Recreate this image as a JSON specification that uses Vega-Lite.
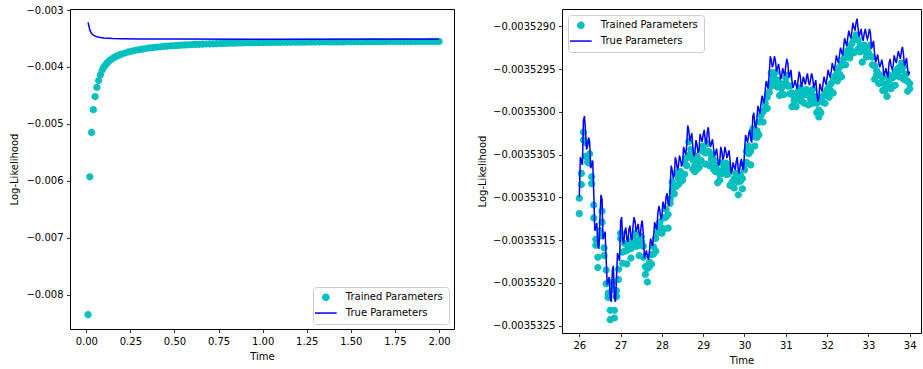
{
"$schema": "https://vega.github.io/schema/vega-lite/v6.json",
"padding": {"left": 9, "top": 4, "right": 0, "bottom": 0},
"spacing": 22,
"resolve": {"scale": {"color": "independent", "shape": "independent"}, "legend": {"color": "independent", "shape": "independent"}},
"config": {
 "view": {"stroke": "#000000", "strokeWidth": 1},
 "font": "DejaVu Sans",
 "axis": {"labelFont": "DejaVu Sans", "labelFontSize": 10, "labelColor": "#000000", "titleFont": "DejaVu Sans", "titleFontSize": 10, "titleFontWeight": "normal", "titleColor": "#000000", "tickColor": "#000000", "tickSize": 3.5, "tickWidth": 0.8, "labelPadding": 3.5, "domain": false, "grid": false, "labelFlush": false, "labelOverlap": false, "labelBound": false},
 "legend": {"labelFont": "DejaVu Sans", "labelFontSize": 10, "labelColor": "#000000", "strokeColor": "#cccccc", "fillColor": "rgba(255,255,255,0.8)", "cornerRadius": 3, "padding": 5.35, "symbolSize": 100, "symbolStrokeWidth": 0, "symbolOffset": 2.5, "labelOffset": 15, "rowPadding": 5.7}
},
"datasets": {
 "leftTrained": [
  {"t":0.01,"ll":-0.00835},{"t":0.02,"ll":-0.00593},{"t":0.03,"ll":-0.00515},{"t":0.04,"ll":-0.00475},{"t":0.05,"ll":-0.00452},{"t":0.06,"ll":-0.00436},{"t":0.07,"ll":-0.00424},{"t":0.08,"ll":-0.00414},{"t":0.09,"ll":-0.00406},{"t":0.10,"ll":-0.004},
  {"t":0.11,"ll":-0.00396},{"t":0.12,"ll":-0.003925},{"t":0.13,"ll":-0.003895},{"t":0.14,"ll":-0.00387},{"t":0.15,"ll":-0.00385},{"t":0.16,"ll":-0.00383},{"t":0.17,"ll":-0.003815},{"t":0.18,"ll":-0.0038},{"t":0.19,"ll":-0.003787},{"t":0.20,"ll":-0.003775},
  {"t":0.22,"ll":-0.003755},{"t":0.24,"ll":-0.003737},{"t":0.26,"ll":-0.003722},{"t":0.28,"ll":-0.003709},{"t":0.30,"ll":-0.003697},{"t":0.32,"ll":-0.003686},{"t":0.34,"ll":-0.003676},{"t":0.36,"ll":-0.003667},{"t":0.38,"ll":-0.003659},{"t":0.40,"ll":-0.003652},
  {"t":0.42,"ll":-0.003646},{"t":0.44,"ll":-0.00364},{"t":0.46,"ll":-0.003635},{"t":0.48,"ll":-0.00363},{"t":0.50,"ll":-0.003626},{"t":0.52,"ll":-0.003622},{"t":0.54,"ll":-0.003618},{"t":0.56,"ll":-0.003614},{"t":0.58,"ll":-0.003611},{"t":0.60,"ll":-0.003608},
  {"t":0.62,"ll":-0.003605},{"t":0.64,"ll":-0.003602},{"t":0.66,"ll":-0.0036},{"t":0.68,"ll":-0.003597},{"t":0.70,"ll":-0.003595},{"t":0.72,"ll":-0.003593},{"t":0.74,"ll":-0.003591},{"t":0.76,"ll":-0.003589},{"t":0.78,"ll":-0.003587},{"t":0.80,"ll":-0.003585},
  {"t":0.82,"ll":-0.003583},{"t":0.84,"ll":-0.003582},{"t":0.86,"ll":-0.00358},{"t":0.88,"ll":-0.003579},{"t":0.90,"ll":-0.003577},{"t":0.92,"ll":-0.003576},{"t":0.94,"ll":-0.003575},{"t":0.96,"ll":-0.003574},{"t":0.98,"ll":-0.003573},{"t":1.00,"ll":-0.003572},
  {"t":1.02,"ll":-0.003571},{"t":1.04,"ll":-0.00357},{"t":1.06,"ll":-0.003569},{"t":1.08,"ll":-0.003569},{"t":1.10,"ll":-0.003568},{"t":1.12,"ll":-0.003568},{"t":1.14,"ll":-0.003567},{"t":1.16,"ll":-0.003567},{"t":1.18,"ll":-0.003566},{"t":1.20,"ll":-0.003566},
  {"t":1.22,"ll":-0.003565},{"t":1.24,"ll":-0.003565},{"t":1.26,"ll":-0.003564},{"t":1.28,"ll":-0.003564},{"t":1.30,"ll":-0.003563},{"t":1.32,"ll":-0.003563},{"t":1.34,"ll":-0.003562},{"t":1.36,"ll":-0.003562},{"t":1.38,"ll":-0.003561},{"t":1.40,"ll":-0.003561},
  {"t":1.42,"ll":-0.00356},{"t":1.44,"ll":-0.00356},{"t":1.46,"ll":-0.00356},{"t":1.48,"ll":-0.003559},{"t":1.50,"ll":-0.003559},{"t":1.52,"ll":-0.003558},{"t":1.54,"ll":-0.003558},{"t":1.56,"ll":-0.003558},{"t":1.58,"ll":-0.003557},{"t":1.60,"ll":-0.003557},
  {"t":1.62,"ll":-0.003557},{"t":1.64,"ll":-0.003556},{"t":1.66,"ll":-0.003556},{"t":1.68,"ll":-0.003556},{"t":1.70,"ll":-0.003555},{"t":1.72,"ll":-0.003555},{"t":1.74,"ll":-0.003555},{"t":1.76,"ll":-0.003555},{"t":1.78,"ll":-0.003554},{"t":1.80,"ll":-0.003554},
  {"t":1.82,"ll":-0.003554},{"t":1.84,"ll":-0.003554},{"t":1.86,"ll":-0.003553},{"t":1.88,"ll":-0.003553},{"t":1.90,"ll":-0.003553},{"t":1.92,"ll":-0.003553},{"t":1.94,"ll":-0.003552},{"t":1.96,"ll":-0.003552},{"t":1.98,"ll":-0.003552},{"t":2.00,"ll":-0.003552}
 ],
 "leftTrue": [
  {"t":0.01,"ll":-0.00322},{"t":0.02,"ll":-0.00335},{"t":0.03,"ll":-0.003414},{"t":0.04,"ll":-0.00344},{"t":0.05,"ll":-0.003459},{"t":0.06,"ll":-0.00347},{"t":0.08,"ll":-0.003482},{"t":0.10,"ll":-0.003492},{"t":0.15,"ll":-0.003502},{"t":0.20,"ll":-0.003506},{"t":0.30,"ll":-0.003509},{"t":0.50,"ll":-0.003511},{"t":1.00,"ll":-0.003512},{"t":1.50,"ll":-0.003513},{"t":2.00,"ll":-0.003513}
 ],
 "rightTrue": [
  {"t":26.00,"ll":-0.00353099},{"t":26.05,"ll":-0.00353058},{"t":26.10,"ll":-0.0035301},{"t":26.15,"ll":-0.00353022},{"t":26.20,"ll":-0.0035304},{"t":26.25,"ll":-0.00353035},{"t":26.30,"ll":-0.00353062},{"t":26.35,"ll":-0.00353095},{"t":26.40,"ll":-0.00353135},{"t":26.45,"ll":-0.00353156},
  {"t":26.50,"ll":-0.00353125},{"t":26.55,"ll":-0.00353102},{"t":26.60,"ll":-0.00353145},{"t":26.65,"ll":-0.00353171},{"t":26.70,"ll":-0.00353198},{"t":26.75,"ll":-0.00353218},{"t":26.80,"ll":-0.00353185},{"t":26.85,"ll":-0.00353218},{"t":26.90,"ll":-0.00353195},{"t":26.95,"ll":-0.0035317},
  {"t":27.00,"ll":-0.00353128},{"t":27.05,"ll":-0.0035315},{"t":27.10,"ll":-0.0035314},{"t":27.15,"ll":-0.00353148},{"t":27.20,"ll":-0.00353138},{"t":27.25,"ll":-0.00353146},{"t":27.30,"ll":-0.00353134},{"t":27.35,"ll":-0.00353128},{"t":27.40,"ll":-0.00353136},{"t":27.45,"ll":-0.00353142},
  {"t":27.50,"ll":-0.00353132},{"t":27.55,"ll":-0.00353143},{"t":27.60,"ll":-0.00353167},{"t":27.65,"ll":-0.00353169},{"t":27.70,"ll":-0.00353162},{"t":27.75,"ll":-0.00353153},{"t":27.80,"ll":-0.00353144},{"t":27.85,"ll":-0.00353134},{"t":27.90,"ll":-0.0035312},{"t":27.95,"ll":-0.00353115},
  {"t":28.00,"ll":-0.00353122},{"t":28.05,"ll":-0.0035311},{"t":28.10,"ll":-0.003531},{"t":28.15,"ll":-0.00353106},{"t":28.20,"ll":-0.00353088},{"t":28.25,"ll":-0.00353068},{"t":28.30,"ll":-0.00353074},{"t":28.35,"ll":-0.00353058},{"t":28.40,"ll":-0.00353064},{"t":28.45,"ll":-0.00353056},
  {"t":28.50,"ll":-0.0035306},{"t":28.55,"ll":-0.00353046},{"t":28.60,"ll":-0.0035304},{"t":28.65,"ll":-0.00353021},{"t":28.70,"ll":-0.0035303},{"t":28.75,"ll":-0.00353042},{"t":28.80,"ll":-0.00353048},{"t":28.85,"ll":-0.00353038},{"t":28.90,"ll":-0.00353044},{"t":28.95,"ll":-0.00353031},
  {"t":29.00,"ll":-0.00353026},{"t":29.05,"ll":-0.00353034},{"t":29.10,"ll":-0.00353023},{"t":29.15,"ll":-0.00353033},{"t":29.20,"ll":-0.00353037},{"t":29.25,"ll":-0.00353042},{"t":29.30,"ll":-0.00353048},{"t":29.35,"ll":-0.00353054},{"t":29.40,"ll":-0.00353059},{"t":29.45,"ll":-0.00353046},
  {"t":29.50,"ll":-0.00353052},{"t":29.55,"ll":-0.00353046},{"t":29.60,"ll":-0.0035305},{"t":29.65,"ll":-0.00353056},{"t":29.70,"ll":-0.00353068},{"t":29.75,"ll":-0.00353064},{"t":29.80,"ll":-0.00353058},{"t":29.85,"ll":-0.00353068},{"t":29.90,"ll":-0.0035306},{"t":29.95,"ll":-0.00353064},
  {"t":30.00,"ll":-0.00353048},{"t":30.05,"ll":-0.00353032},{"t":30.10,"ll":-0.00353026},{"t":30.15,"ll":-0.00353032},{"t":30.20,"ll":-0.00353006},{"t":30.25,"ll":-0.00353015},{"t":30.30,"ll":-0.00353008},{"t":30.35,"ll":-0.00352998},{"t":30.40,"ll":-0.0035299},{"t":30.45,"ll":-0.00352986},
  {"t":30.50,"ll":-0.00352976},{"t":30.55,"ll":-0.00352969},{"t":30.60,"ll":-0.00352954},{"t":30.65,"ll":-0.0035294},{"t":30.70,"ll":-0.00352944},{"t":30.75,"ll":-0.0035294},{"t":30.80,"ll":-0.00352949},{"t":30.85,"ll":-0.00352952},{"t":30.90,"ll":-0.00352958},{"t":30.95,"ll":-0.00352954},
  {"t":31.00,"ll":-0.00352946},{"t":31.05,"ll":-0.00352943},{"t":31.10,"ll":-0.00352956},{"t":31.15,"ll":-0.00352964},{"t":31.20,"ll":-0.00352968},{"t":31.25,"ll":-0.00352969},{"t":31.30,"ll":-0.00352962},{"t":31.35,"ll":-0.00352958},{"t":31.40,"ll":-0.00352967},{"t":31.45,"ll":-0.00352964},
  {"t":31.50,"ll":-0.0035296},{"t":31.55,"ll":-0.00352965},{"t":31.60,"ll":-0.00352962},{"t":31.65,"ll":-0.0035296},{"t":31.70,"ll":-0.00352968},{"t":31.75,"ll":-0.00352976},{"t":31.80,"ll":-0.00352984},{"t":31.85,"ll":-0.00352972},{"t":31.90,"ll":-0.00352968},{"t":31.95,"ll":-0.00352964},
  {"t":32.00,"ll":-0.0035296},{"t":32.05,"ll":-0.00352956},{"t":32.10,"ll":-0.00352953},{"t":32.15,"ll":-0.00352948},{"t":32.20,"ll":-0.00352944},{"t":32.25,"ll":-0.00352939},{"t":32.30,"ll":-0.00352934},{"t":32.35,"ll":-0.0035293},{"t":32.40,"ll":-0.00352924},{"t":32.45,"ll":-0.00352919},
  {"t":32.50,"ll":-0.00352914},{"t":32.55,"ll":-0.0035291},{"t":32.60,"ll":-0.00352906},{"t":32.65,"ll":-0.00352901},{"t":32.70,"ll":-0.00352896},{"t":32.75,"ll":-0.00352902},{"t":32.80,"ll":-0.00352908},{"t":32.85,"ll":-0.00352913},{"t":32.90,"ll":-0.00352908},{"t":32.95,"ll":-0.0035291},
  {"t":33.00,"ll":-0.00352911},{"t":33.05,"ll":-0.00352908},{"t":33.10,"ll":-0.00352922},{"t":33.15,"ll":-0.00352932},{"t":33.20,"ll":-0.00352938},{"t":33.25,"ll":-0.00352942},{"t":33.30,"ll":-0.00352944},{"t":33.35,"ll":-0.00352946},{"t":33.40,"ll":-0.00352954},{"t":33.45,"ll":-0.00352956},
  {"t":33.50,"ll":-0.00352943},{"t":33.55,"ll":-0.00352946},{"t":33.60,"ll":-0.00352946},{"t":33.65,"ll":-0.00352939},{"t":33.70,"ll":-0.00352936},{"t":33.75,"ll":-0.00352934},{"t":33.80,"ll":-0.00352929},{"t":33.85,"ll":-0.00352933},{"t":33.90,"ll":-0.00352942},{"t":33.95,"ll":-0.0035295},
  {"t":34.00,"ll":-0.00352953},
  {"t":26.025,"ll":-0.00353053},{"t":26.075,"ll":-0.00353062},{"t":26.125,"ll":-0.00353005},{"t":26.175,"ll":-0.00353044},{"t":26.225,"ll":-0.0035303},{"t":26.275,"ll":-0.00353066},{"t":26.325,"ll":-0.00353057},{"t":26.375,"ll":-0.00353139},{"t":26.425,"ll":-0.0035313},{"t":26.475,"ll":-0.0035316},
  {"t":26.525,"ll":-0.00353097},{"t":26.575,"ll":-0.00353149},{"t":26.625,"ll":-0.0035314},{"t":26.675,"ll":-0.00353202},{"t":26.725,"ll":-0.00353193},{"t":26.775,"ll":-0.00353222},{"t":26.825,"ll":-0.0035318},{"t":26.875,"ll":-0.00353222},{"t":26.925,"ll":-0.00353165},{"t":26.975,"ll":-0.00353174},
  {"t":27.025,"ll":-0.00353123},{"t":27.075,"ll":-0.00353154},{"t":27.125,"ll":-0.00353135},{"t":27.175,"ll":-0.00353152},{"t":27.225,"ll":-0.00353133},{"t":27.275,"ll":-0.0035315},{"t":27.325,"ll":-0.00353123},{"t":27.375,"ll":-0.0035314},{"t":27.425,"ll":-0.00353131},{"t":27.475,"ll":-0.00353146},
  {"t":27.525,"ll":-0.00353127},{"t":27.575,"ll":-0.00353171},{"t":27.625,"ll":-0.00353162},{"t":27.675,"ll":-0.00353173},{"t":27.725,"ll":-0.00353148},{"t":27.775,"ll":-0.00353157},{"t":27.825,"ll":-0.00353129},{"t":27.875,"ll":-0.00353138},{"t":27.925,"ll":-0.0035311},{"t":27.975,"ll":-0.00353126},
  {"t":28.025,"ll":-0.00353105},{"t":28.075,"ll":-0.00353114},{"t":28.125,"ll":-0.00353095},{"t":28.175,"ll":-0.0035311},{"t":28.225,"ll":-0.00353063},{"t":28.275,"ll":-0.00353078},{"t":28.325,"ll":-0.00353053},{"t":28.375,"ll":-0.00353068},{"t":28.425,"ll":-0.00353051},{"t":28.475,"ll":-0.00353064},
  {"t":28.525,"ll":-0.00353041},{"t":28.575,"ll":-0.0035305},{"t":28.625,"ll":-0.00353016},{"t":28.675,"ll":-0.00353034},{"t":28.725,"ll":-0.00353025},{"t":28.775,"ll":-0.00353052},{"t":28.825,"ll":-0.00353033},{"t":28.875,"ll":-0.00353048},{"t":28.925,"ll":-0.00353026},{"t":28.975,"ll":-0.00353035},
  {"t":29.025,"ll":-0.00353021},{"t":29.075,"ll":-0.00353038},{"t":29.125,"ll":-0.00353018},{"t":29.175,"ll":-0.00353041},{"t":29.225,"ll":-0.00353032},{"t":29.275,"ll":-0.00353052},{"t":29.325,"ll":-0.00353043},{"t":29.375,"ll":-0.00353063},{"t":29.425,"ll":-0.00353041},{"t":29.475,"ll":-0.00353056},
  {"t":29.525,"ll":-0.00353041},{"t":29.575,"ll":-0.00353054},{"t":29.625,"ll":-0.00353045},{"t":29.675,"ll":-0.00353072},{"t":29.725,"ll":-0.00353059},{"t":29.775,"ll":-0.00353068},{"t":29.825,"ll":-0.00353053},{"t":29.875,"ll":-0.00353072},{"t":29.925,"ll":-0.00353055},{"t":29.975,"ll":-0.00353068},
  {"t":30.025,"ll":-0.00353027},{"t":30.075,"ll":-0.00353036},{"t":30.125,"ll":-0.00353021},{"t":30.175,"ll":-0.00353036},{"t":30.225,"ll":-0.00353001},{"t":30.275,"ll":-0.00353019},{"t":30.325,"ll":-0.00352993},{"t":30.375,"ll":-0.00353002},{"t":30.425,"ll":-0.00352981},{"t":30.475,"ll":-0.0035299},
  {"t":30.525,"ll":-0.00352964},{"t":30.575,"ll":-0.00352973},{"t":30.625,"ll":-0.00352935},{"t":30.675,"ll":-0.00352948},{"t":30.725,"ll":-0.00352935},{"t":30.775,"ll":-0.00352953},{"t":30.825,"ll":-0.00352944},{"t":30.875,"ll":-0.00352962},{"t":30.925,"ll":-0.00352949},{"t":30.975,"ll":-0.00352958},
  {"t":31.025,"ll":-0.00352938},{"t":31.075,"ll":-0.0035296},{"t":31.125,"ll":-0.00352951},{"t":31.175,"ll":-0.00352972},{"t":31.225,"ll":-0.00352963},{"t":31.275,"ll":-0.00352973},{"t":31.325,"ll":-0.00352953},{"t":31.375,"ll":-0.00352971},{"t":31.425,"ll":-0.00352959},{"t":31.475,"ll":-0.00352968},
  {"t":31.525,"ll":-0.00352955},{"t":31.575,"ll":-0.00352969},{"t":31.625,"ll":-0.00352955},{"t":31.675,"ll":-0.00352972},{"t":31.725,"ll":-0.00352963},{"t":31.775,"ll":-0.00352988},{"t":31.825,"ll":-0.00352967},{"t":31.875,"ll":-0.00352976},{"t":31.925,"ll":-0.00352959},{"t":31.975,"ll":-0.00352968},
  {"t":32.025,"ll":-0.00352951},{"t":32.075,"ll":-0.0035296},{"t":32.125,"ll":-0.00352943},{"t":32.175,"ll":-0.00352952},{"t":32.225,"ll":-0.00352934},{"t":32.275,"ll":-0.00352943},{"t":32.325,"ll":-0.00352925},{"t":32.375,"ll":-0.00352934},{"t":32.425,"ll":-0.00352914},{"t":32.475,"ll":-0.00352923},
  {"t":32.525,"ll":-0.00352905},{"t":32.575,"ll":-0.00352914},{"t":32.625,"ll":-0.00352896},{"t":32.675,"ll":-0.00352905},{"t":32.725,"ll":-0.00352891},{"t":32.775,"ll":-0.00352912},{"t":32.825,"ll":-0.00352903},{"t":32.875,"ll":-0.00352917},{"t":32.925,"ll":-0.00352903},{"t":32.975,"ll":-0.00352915},
  {"t":33.025,"ll":-0.00352903},{"t":33.075,"ll":-0.00352926},{"t":33.125,"ll":-0.00352917},{"t":33.175,"ll":-0.00352942},{"t":33.225,"ll":-0.00352933},{"t":33.275,"ll":-0.00352948},{"t":33.325,"ll":-0.00352939},{"t":33.375,"ll":-0.00352958},{"t":33.425,"ll":-0.00352949},{"t":33.475,"ll":-0.0035296},
  {"t":33.525,"ll":-0.00352938},{"t":33.575,"ll":-0.0035295},{"t":33.625,"ll":-0.00352934},{"t":33.675,"ll":-0.00352943},{"t":33.725,"ll":-0.00352929},{"t":33.775,"ll":-0.00352938},{"t":33.825,"ll":-0.00352924},{"t":33.875,"ll":-0.00352946},{"t":33.925,"ll":-0.00352937},{"t":33.975,"ll":-0.00352957}
 ],
 "rightTrained": [
  {"t":26.00,"ll":-0.00353101},{"t":26.00,"ll":-0.00353119},{"t":26.05,"ll":-0.00353085},{"t":26.10,"ll":-0.00353033},{"t":26.15,"ll":-0.00353052},{"t":26.20,"ll":-0.00353059},{"t":26.25,"ll":-0.0035306},{"t":26.30,"ll":-0.00353084},{"t":26.35,"ll":-0.00353124},{"t":26.40,"ll":-0.00353156},{"t":26.45,"ll":-0.00353182},
  {"t":26.50,"ll":-0.00353145},{"t":26.55,"ll":-0.00353129},{"t":26.60,"ll":-0.00353168},{"t":26.65,"ll":-0.00353201},{"t":26.70,"ll":-0.00353217},{"t":26.75,"ll":-0.00353243},{"t":26.80,"ll":-0.00353207},{"t":26.85,"ll":-0.00353241},{"t":26.90,"ll":-0.00353216},{"t":26.95,"ll":-0.00353196},
  {"t":27.00,"ll":-0.00353148},{"t":27.05,"ll":-0.00353177},{"t":27.10,"ll":-0.00353163},{"t":27.15,"ll":-0.00353178},{"t":27.20,"ll":-0.00353157},{"t":27.25,"ll":-0.00353171},{"t":27.30,"ll":-0.00353156},{"t":27.35,"ll":-0.00353157},{"t":27.40,"ll":-0.00353157},{"t":27.45,"ll":-0.00353168},
  {"t":27.50,"ll":-0.00353152},{"t":27.55,"ll":-0.0035317},{"t":27.60,"ll":-0.0035319},{"t":27.65,"ll":-0.00353199},{"t":27.70,"ll":-0.00353181},{"t":27.75,"ll":-0.00353178},{"t":27.80,"ll":-0.00353166},{"t":27.85,"ll":-0.00353163},{"t":27.90,"ll":-0.00353141},{"t":27.95,"ll":-0.00353141},
  {"t":28.00,"ll":-0.00353142},{"t":28.05,"ll":-0.00353137},{"t":28.10,"ll":-0.00353123},{"t":28.15,"ll":-0.00353136},{"t":28.20,"ll":-0.00353107},{"t":28.25,"ll":-0.00353093},{"t":28.30,"ll":-0.00353096},{"t":28.35,"ll":-0.00353087},{"t":28.40,"ll":-0.00353085},{"t":28.45,"ll":-0.00353082},
  {"t":28.50,"ll":-0.0035308},{"t":28.55,"ll":-0.00353073},{"t":28.60,"ll":-0.00353063},{"t":28.65,"ll":-0.00353051},{"t":28.70,"ll":-0.00353049},{"t":28.75,"ll":-0.00353067},{"t":28.80,"ll":-0.0035307},{"t":28.85,"ll":-0.00353067},{"t":28.90,"ll":-0.00353065},{"t":28.95,"ll":-0.00353057},
  {"t":29.00,"ll":-0.00353046},{"t":29.05,"ll":-0.00353061},{"t":29.10,"ll":-0.00353046},{"t":29.15,"ll":-0.00353063},{"t":29.20,"ll":-0.00353056},{"t":29.25,"ll":-0.00353067},{"t":29.30,"ll":-0.0035307},{"t":29.35,"ll":-0.00353083},{"t":29.40,"ll":-0.0035308},{"t":29.45,"ll":-0.00353072},
  {"t":29.50,"ll":-0.00353072},{"t":29.55,"ll":-0.00353073},{"t":29.60,"ll":-0.00353073},{"t":29.65,"ll":-0.00353086},{"t":29.70,"ll":-0.00353087},{"t":29.75,"ll":-0.00353089},{"t":29.80,"ll":-0.0035308},{"t":29.85,"ll":-0.00353097},{"t":29.90,"ll":-0.00353081},{"t":29.95,"ll":-0.0035309},
  {"t":30.00,"ll":-0.00353068},{"t":30.05,"ll":-0.00353059},{"t":30.10,"ll":-0.00353049},{"t":30.15,"ll":-0.00353062},{"t":30.20,"ll":-0.00353025},{"t":30.25,"ll":-0.0035304},{"t":30.30,"ll":-0.0035303},{"t":30.35,"ll":-0.00353027},{"t":30.40,"ll":-0.00353011},{"t":30.45,"ll":-0.00353012},
  {"t":30.50,"ll":-0.00352996},{"t":30.55,"ll":-0.00352996},{"t":30.60,"ll":-0.00352977},{"t":30.65,"ll":-0.0035297},{"t":30.70,"ll":-0.00352963},{"t":30.75,"ll":-0.00352965},{"t":30.80,"ll":-0.00352971},{"t":30.85,"ll":-0.00352981},{"t":30.90,"ll":-0.00352979},{"t":30.95,"ll":-0.0035298},
  {"t":31.00,"ll":-0.00352966},{"t":31.05,"ll":-0.0035297},{"t":31.10,"ll":-0.00352979},{"t":31.15,"ll":-0.00352994},{"t":31.20,"ll":-0.00352987},{"t":31.25,"ll":-0.00352994},{"t":31.30,"ll":-0.00352984},{"t":31.35,"ll":-0.00352987},{"t":31.40,"ll":-0.00352988},{"t":31.45,"ll":-0.0035299},
  {"t":31.50,"ll":-0.0035298},{"t":31.55,"ll":-0.00352992},{"t":31.60,"ll":-0.00352985},{"t":31.65,"ll":-0.0035299},{"t":31.70,"ll":-0.00352987},{"t":31.75,"ll":-0.00353001},{"t":31.80,"ll":-0.00353006},{"t":31.85,"ll":-0.00353001},{"t":31.90,"ll":-0.00352989},{"t":31.95,"ll":-0.0035299},
  {"t":32.00,"ll":-0.0035298},{"t":32.05,"ll":-0.00352983},{"t":32.10,"ll":-0.00352976},{"t":32.15,"ll":-0.00352978},{"t":32.20,"ll":-0.00352963},{"t":32.25,"ll":-0.00352964},{"t":32.30,"ll":-0.00352956},{"t":32.35,"ll":-0.00352959},{"t":32.40,"ll":-0.00352945},{"t":32.45,"ll":-0.00352945},
  {"t":32.50,"ll":-0.00352934},{"t":32.55,"ll":-0.00352937},{"t":32.60,"ll":-0.00352929},{"t":32.65,"ll":-0.00352931},{"t":32.70,"ll":-0.00352915},{"t":32.75,"ll":-0.00352927},{"t":32.80,"ll":-0.0035293},{"t":32.85,"ll":-0.00352942},{"t":32.90,"ll":-0.00352929},{"t":32.95,"ll":-0.00352936},
  {"t":33.00,"ll":-0.00352931},{"t":33.05,"ll":-0.00352935},{"t":33.10,"ll":-0.00352945},{"t":33.15,"ll":-0.00352962},{"t":33.20,"ll":-0.00352957},{"t":33.25,"ll":-0.00352967},{"t":33.30,"ll":-0.00352966},{"t":33.35,"ll":-0.00352975},{"t":33.40,"ll":-0.00352975},{"t":33.45,"ll":-0.00352982},
  {"t":33.50,"ll":-0.00352963},{"t":33.55,"ll":-0.00352973},{"t":33.60,"ll":-0.00352969},{"t":33.65,"ll":-0.00352969},{"t":33.70,"ll":-0.00352955},{"t":33.75,"ll":-0.00352959},{"t":33.80,"ll":-0.00352951},{"t":33.85,"ll":-0.00352962},{"t":33.90,"ll":-0.00352963},{"t":33.95,"ll":-0.00352976},
  {"t":34.00,"ll":-0.00352973},
  {"t":26.05,"ll":-0.00353072},{"t":26.10,"ll":-0.00353024},{"t":26.15,"ll":-0.00353036},{"t":26.20,"ll":-0.00353054},{"t":26.25,"ll":-0.00353049},{"t":26.30,"ll":-0.00353076},{"t":26.35,"ll":-0.00353109},{"t":26.40,"ll":-0.00353149},{"t":26.45,"ll":-0.0035317},
  {"t":26.50,"ll":-0.00353139},{"t":26.55,"ll":-0.00353116},{"t":26.60,"ll":-0.00353159},{"t":26.65,"ll":-0.00353185},{"t":26.70,"ll":-0.00353212},{"t":26.75,"ll":-0.00353232},{"t":26.80,"ll":-0.00353199},{"t":26.85,"ll":-0.00353232},{"t":26.90,"ll":-0.00353209},{"t":26.95,"ll":-0.00353184},
  {"t":27.00,"ll":-0.00353142},{"t":27.05,"ll":-0.00353164},{"t":27.10,"ll":-0.00353154},{"t":27.15,"ll":-0.00353162},{"t":27.20,"ll":-0.00353152},{"t":27.25,"ll":-0.0035316},{"t":27.30,"ll":-0.00353148},{"t":27.35,"ll":-0.00353142},{"t":27.40,"ll":-0.0035315},{"t":27.45,"ll":-0.00353156},
  {"t":27.50,"ll":-0.00353146},{"t":27.55,"ll":-0.00353157},{"t":27.60,"ll":-0.00353181},{"t":27.65,"ll":-0.00353183},{"t":27.70,"ll":-0.00353176},{"t":27.75,"ll":-0.00353167},{"t":27.80,"ll":-0.00353158},{"t":27.85,"ll":-0.00353148},{"t":27.90,"ll":-0.00353134},{"t":27.95,"ll":-0.00353129},
  {"t":28.00,"ll":-0.00353136},{"t":28.05,"ll":-0.00353124},{"t":28.10,"ll":-0.00353114},{"t":28.15,"ll":-0.0035312},{"t":28.20,"ll":-0.00353102},{"t":28.25,"ll":-0.00353082},{"t":28.30,"ll":-0.00353088},{"t":28.35,"ll":-0.00353072},{"t":28.40,"ll":-0.00353078},{"t":28.45,"ll":-0.0035307},
  {"t":28.50,"ll":-0.00353074},{"t":28.55,"ll":-0.0035306},{"t":28.60,"ll":-0.00353054},{"t":28.65,"ll":-0.00353035},{"t":28.70,"ll":-0.00353044},{"t":28.75,"ll":-0.00353056},{"t":28.80,"ll":-0.00353062},{"t":28.85,"ll":-0.00353052},{"t":28.90,"ll":-0.00353058},{"t":28.95,"ll":-0.00353045},
  {"t":29.00,"ll":-0.0035304},{"t":29.05,"ll":-0.00353048},{"t":29.10,"ll":-0.00353037},{"t":29.15,"ll":-0.00353047},{"t":29.20,"ll":-0.00353051},{"t":29.25,"ll":-0.00353056},{"t":29.30,"ll":-0.00353062},{"t":29.35,"ll":-0.00353068},{"t":29.40,"ll":-0.00353073},{"t":29.45,"ll":-0.0035306},
  {"t":29.50,"ll":-0.00353066},{"t":29.55,"ll":-0.0035306},{"t":29.60,"ll":-0.00353064},{"t":29.65,"ll":-0.0035307},{"t":29.70,"ll":-0.00353082},{"t":29.75,"ll":-0.00353078},{"t":29.80,"ll":-0.00353072},{"t":29.85,"ll":-0.00353082},{"t":29.90,"ll":-0.00353074},{"t":29.95,"ll":-0.00353078},
  {"t":30.00,"ll":-0.00353062},{"t":30.05,"ll":-0.00353046},{"t":30.10,"ll":-0.0035304},{"t":30.15,"ll":-0.00353046},{"t":30.20,"ll":-0.0035302},{"t":30.25,"ll":-0.00353029},{"t":30.30,"ll":-0.00353022},{"t":30.35,"ll":-0.00353012},{"t":30.40,"ll":-0.00353004},{"t":30.45,"ll":-0.00353},
  {"t":30.50,"ll":-0.0035299},{"t":30.55,"ll":-0.00352983},{"t":30.60,"ll":-0.00352968},{"t":30.65,"ll":-0.00352954},{"t":30.70,"ll":-0.00352958},{"t":30.75,"ll":-0.00352954},{"t":30.80,"ll":-0.00352963},{"t":30.85,"ll":-0.00352966},{"t":30.90,"ll":-0.00352972},{"t":30.95,"ll":-0.00352968},
  {"t":31.00,"ll":-0.0035296},{"t":31.05,"ll":-0.00352957},{"t":31.10,"ll":-0.0035297},{"t":31.15,"ll":-0.00352978},{"t":31.20,"ll":-0.00352982},{"t":31.25,"ll":-0.00352983},{"t":31.30,"ll":-0.00352976},{"t":31.35,"ll":-0.00352972},{"t":31.40,"ll":-0.00352981},{"t":31.45,"ll":-0.00352978},
  {"t":31.50,"ll":-0.00352974},{"t":31.55,"ll":-0.00352979},{"t":31.60,"ll":-0.00352976},{"t":31.65,"ll":-0.00352974},{"t":31.70,"ll":-0.00352982},{"t":31.75,"ll":-0.0035299},{"t":31.80,"ll":-0.00352998},{"t":31.85,"ll":-0.00352986},{"t":31.90,"ll":-0.00352982},{"t":31.95,"ll":-0.00352978},
  {"t":32.00,"ll":-0.00352974},{"t":32.05,"ll":-0.0035297},{"t":32.10,"ll":-0.00352967},{"t":32.15,"ll":-0.00352962},{"t":32.20,"ll":-0.00352958},{"t":32.25,"ll":-0.00352953},{"t":32.30,"ll":-0.00352948},{"t":32.35,"ll":-0.00352944},{"t":32.40,"ll":-0.00352938},{"t":32.45,"ll":-0.00352933},
  {"t":32.50,"ll":-0.00352928},{"t":32.55,"ll":-0.00352924},{"t":32.60,"ll":-0.0035292},{"t":32.65,"ll":-0.00352915},{"t":32.70,"ll":-0.0035291},{"t":32.75,"ll":-0.00352916},{"t":32.80,"ll":-0.00352922},{"t":32.85,"ll":-0.00352927},{"t":32.90,"ll":-0.00352922},{"t":32.95,"ll":-0.00352924},
  {"t":33.00,"ll":-0.00352925},{"t":33.05,"ll":-0.00352922},{"t":33.10,"ll":-0.00352936},{"t":33.15,"ll":-0.00352946},{"t":33.20,"ll":-0.00352952},{"t":33.25,"ll":-0.00352956},{"t":33.30,"ll":-0.00352958},{"t":33.35,"ll":-0.0035296},{"t":33.40,"ll":-0.00352968},{"t":33.45,"ll":-0.0035297},
  {"t":33.50,"ll":-0.00352957},{"t":33.55,"ll":-0.0035296},{"t":33.60,"ll":-0.0035296},{"t":33.65,"ll":-0.00352953},{"t":33.70,"ll":-0.0035295},{"t":33.75,"ll":-0.00352948},{"t":33.80,"ll":-0.00352943},{"t":33.85,"ll":-0.00352947},{"t":33.90,"ll":-0.00352956},{"t":33.95,"ll":-0.00352964},
  {"t":34.00,"ll":-0.00352967}
 ]
},
"hconcat": [
 {
  "width": 384, "height": 320,
  "layer": [
   {
    "data": {"name": "leftTrained"},
    "mark": {"type": "point", "filled": true, "size": 88, "opacity": 1, "strokeWidth": 0},
    "encoding": {
     "x": {"field": "t", "type": "quantitative", "scale": {"domain": [-0.0924, 2.085], "nice": false, "zero": false}, "axis": {"title": "Time", "values": [0, 0.25, 0.5, 0.75, 1, 1.25, 1.5, 1.75, 2], "format": ".2f", "titlePadding": 5}},
     "y": {"field": "ll", "type": "quantitative", "scale": {"domain": [-0.0086024, -0.0029824], "nice": false, "zero": false}, "axis": {"title": "Log-Likelihood", "values": [-0.003, -0.004, -0.005, -0.006, -0.007, -0.008], "format": ".3f", "titlePadding": 6}},
     "color": {"datum": "Trained Parameters", "scale": {"domain": ["Trained Parameters", "True Parameters"], "range": ["#00BFBF", "#0000FF"]}, "legend": {"title": null, "orient": "bottom-right", "offset": 5}},
     "shape": {"datum": "Trained Parameters", "scale": {"domain": ["Trained Parameters", "True Parameters"], "range": ["M-0.77,0A0.77,0.77 0 1,0 0.77,0A0.77,0.77 0 1,0 -0.77,0Z", "M-2.17,-0.15H2.17V0.15H-2.17Z"]}, "legend": {"title": null, "orient": "bottom-right", "offset": 5}}
    }
   },
   {
    "data": {"name": "leftTrue"},
    "mark": {"type": "line", "strokeWidth": 1.5},
    "encoding": {
     "x": {"field": "t", "type": "quantitative"},
     "y": {"field": "ll", "type": "quantitative"},
     "color": {"datum": "True Parameters", "legend": null}
    }
   }
  ]
 },
 {
  "width": 359, "height": 324,
  "layer": [
   {
    "data": {"name": "rightTrained"},
    "mark": {"type": "point", "filled": true, "size": 88, "opacity": 1, "strokeWidth": 0},
    "encoding": {
     "x": {"field": "t", "type": "quantitative", "scale": {"domain": [25.581, 34.274], "nice": false, "zero": false}, "axis": {"title": "Time", "values": [26, 27, 28, 29, 30, 31, 32, 33, 34], "format": "d", "titlePadding": 5}},
     "y": {"field": "ll", "type": "quantitative", "scale": {"domain": [-0.0035325853, -0.0035287978], "nice": false, "zero": false}, "axis": {"title": "Log-Likelihood", "values": [-0.003529, -0.0035295, -0.00353, -0.0035305, -0.003531, -0.0035315, -0.003532, -0.0035325], "format": ".7f", "titlePadding": 5}},
     "color": {"datum": "Trained Parameters", "scale": {"domain": ["Trained Parameters", "True Parameters"], "range": ["#00BFBF", "#0000FF"]}, "legend": {"title": null, "orient": "top-left", "offset": 6}},
     "shape": {"datum": "Trained Parameters", "scale": {"domain": ["Trained Parameters", "True Parameters"], "range": ["M-0.77,0A0.77,0.77 0 1,0 0.77,0A0.77,0.77 0 1,0 -0.77,0Z", "M-2.17,-0.15H2.17V0.15H-2.17Z"]}, "legend": {"title": null, "orient": "top-left", "offset": 6}}
    }
   },
   {
    "data": {"name": "rightTrue"},
    "mark": {"type": "line", "strokeWidth": 1.5},
    "encoding": {
     "x": {"field": "t", "type": "quantitative"},
     "y": {"field": "ll", "type": "quantitative"},
     "color": {"datum": "True Parameters", "legend": null}
    }
   }
  ]
 }
]
}
